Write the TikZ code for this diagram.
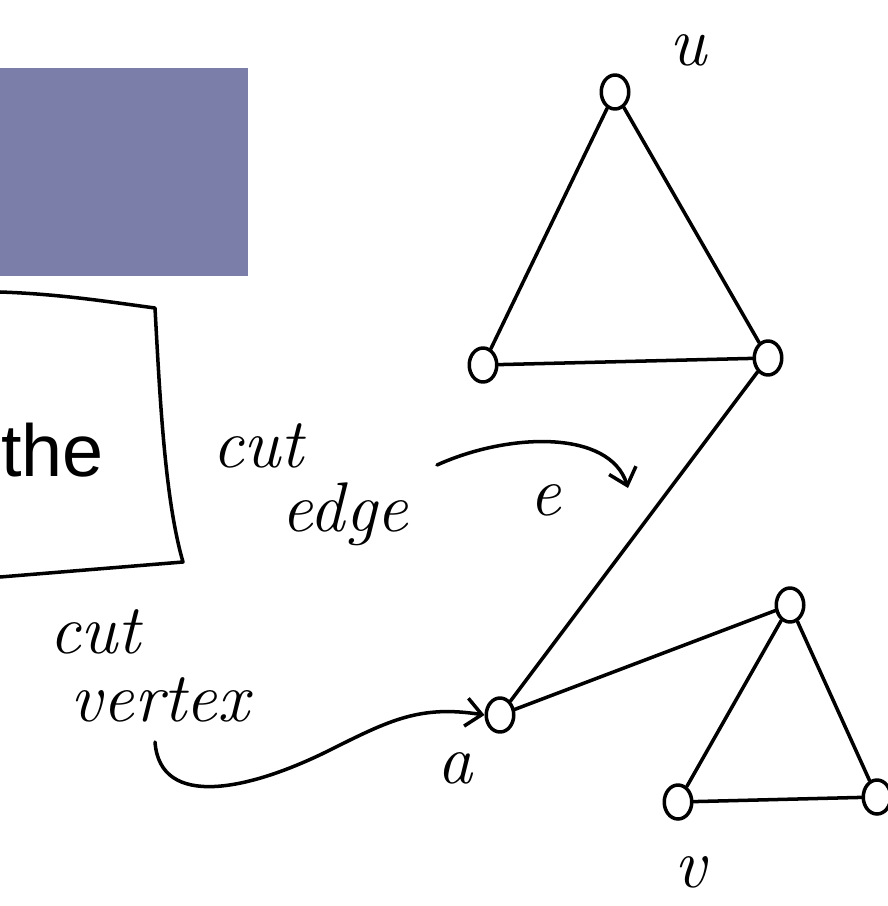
\documentclass[tikz,border=0pt]{standalone}
\usepackage{fontspec}
\newfontfamily\slidefont{Liberation Sans}
\usepackage{tikz}
\usetikzlibrary{arrows.meta, positioning, calc, shapes.geometric}

\definecolor{slideblue}{RGB}{122,126,168}

\tikzset{
  vert/.style={draw, ellipse, line width=2pt, minimum width=0.55cm, minimum height=0.68cm, inner sep=0pt},
  hand/.style={font=\fontsize{40}{44}\selectfont\itshape, inner sep=0pt},
  edgeline/.style={line width=2pt}
}

\begin{document}
\begin{tikzpicture}[x=0.02cm, y=-0.02cm, >={Straight Barb[length=9pt, width=16pt]}, line cap=round, line join=round]
        \useasboundingbox (0,0) rectangle (887,906);
        % slide pieces
        \fill[slideblue] (0,68) rectangle (248,276);
        \draw[line width=2pt] (0,292) .. controls (60,294) and (110,302) .. (155,308)
              .. controls (160,400) and (165,500) .. (183,562) -- (0,577);
        \node[font=\slidefont\fontsize{42}{46}\selectfont, anchor=west, inner sep=0pt] (the) at (1,450) {the};
        % vertices
        \node[vert] (u) at (615,92) {};
        \node[vert] (l) at (483,365) {};
        \node[vert] (r) at (768,358) {};
        \node[vert] (a) at (500,715) {};
        \node[vert] (b) at (790,605) {};
        \node[vert] (c) at (678,802) {};
        \node[vert] (d) at (877,797) {};
        % edges
        \draw[edgeline] (u) -- (l);
        \draw[edgeline] (u) -- (r);
        \draw[edgeline] (l) -- (r);
        \draw[edgeline] (r) -- (a);
        \draw[edgeline] (a) -- (b);
        \draw[edgeline] (b) -- (c);
        \draw[edgeline] (b) -- (d);
        \draw[edgeline] (c) -- (d);
        % labels
        \node[hand] (ulab) at (688,50) {u};
        \node[hand] (cut1) at (258,446) {cut};
        \node[hand] (edgelab) at (345,514) {edge};
        \node[hand] (elab) at (545,500) {e};
        \node[hand] (cut2) at (95,632) {cut};
        \node[hand] (vertexlab) at (160,700) {vertex};
        \node[hand] (alab) at (455,768) {a};
        \node[hand] (vlab) at (690,872) {v};
        % arrows
        \coordinate (estart) at (437,465);
        \coordinate (ehead) at (628,488);
        \draw[edgeline, ->] (estart) .. controls (510,432) and (610,430) .. (ehead);
        \coordinate (vstart) at (155,742);
        \draw[edgeline, ->] (vstart) .. controls (160,810) and (250,790) .. (330,750)
              .. controls (390,720) and (420,705) .. (a.west);
\end{tikzpicture}
\end{document}
